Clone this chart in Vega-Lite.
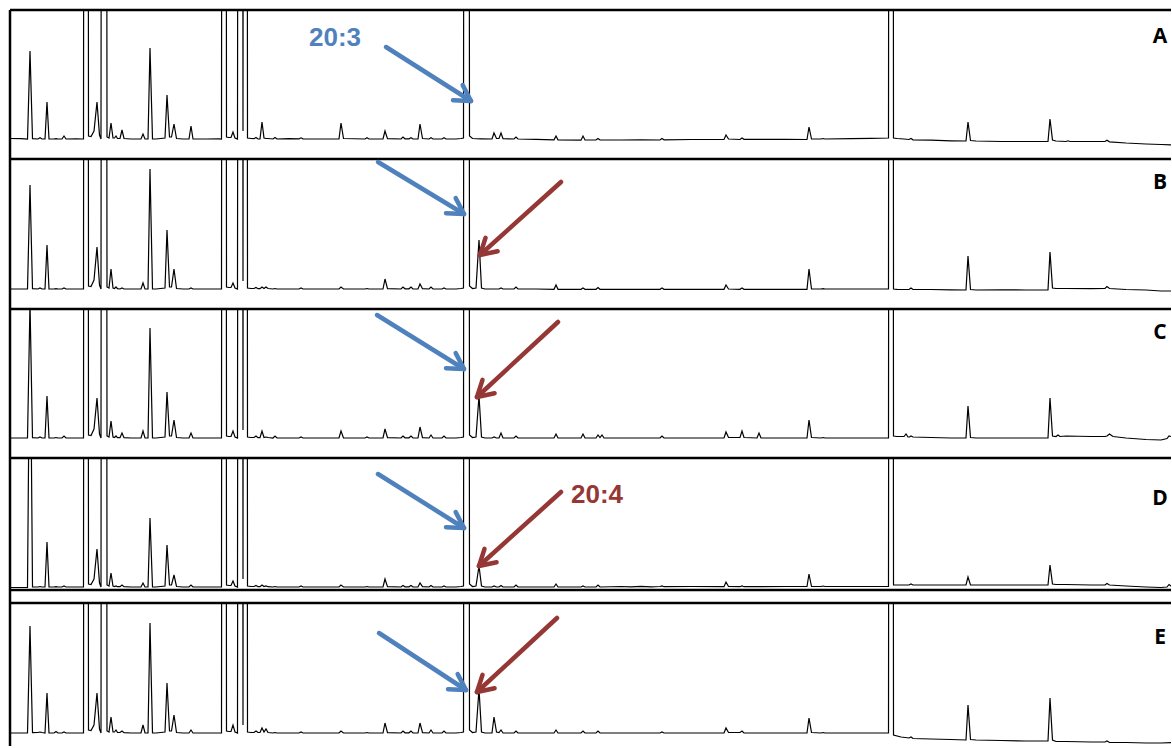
{
"$schema": "https://vega.github.io/schema/vega-lite/v6.json",
"usermeta": {"embedOptions": {"actions": false}},
"padding": {"left": 8, "top": 8, "right": 0, "bottom": 0},
"autosize": {"type": "pad"},
"bounds": "flush",
"spacing": 0,
"config": {
  "view": {"stroke": null}
},
"datasets": {
"A": [{"t":9,"v":0.5},{"t":20,"v":0.3},{"t":26.5,"v":0},{"t":29,"v":88},{"t":31.5,"v":0.3},{"t":37,"v":0},{"t":39,"v":1.2},{"t":41,"v":0},{"t":44,"v":0},{"t":46,"v":37},{"t":48,"v":0},{"t":53,"v":0},{"t":55,"v":0.3},{"t":57,"v":0},{"t":61,"v":0},{"t":63,"v":3},{"t":65,"v":0},{"t":75,"v":0.2},{"t":82.5,"v":0},{"t":85,"v":3000},{"t":87.5,"v":3},{"t":90,"v":2.5},{"t":93,"v":8},{"t":96,"v":37},{"t":98.5,"v":4},{"t":100,"v":0},{"t":103,"v":3000},{"t":106,"v":2},{"t":108,"v":1},{"t":110,"v":16},{"t":112,"v":1},{"t":113.5,"v":1},{"t":115,"v":3},{"t":116.5,"v":0.5},{"t":119,"v":0.5},{"t":121,"v":9},{"t":123,"v":0.5},{"t":130,"v":0},{"t":140,"v":0},{"t":142,"v":5},{"t":144,"v":0},{"t":147,"v":0},{"t":149,"v":91},{"t":151.5,"v":0},{"t":155,"v":0},{"t":164,"v":1},{"t":166,"v":44},{"t":168.5,"v":2},{"t":170.5,"v":2},{"t":173,"v":15},{"t":175.5,"v":0.5},{"t":182,"v":0},{"t":188,"v":0},{"t":190,"v":13},{"t":192,"v":0},{"t":205,"v":0},{"t":218,"v":0.2},{"t":220.5,"v":0},{"t":223,"v":3000},{"t":225.5,"v":2},{"t":228,"v":1.5},{"t":230,"v":1.5},{"t":232,"v":7},{"t":234,"v":1},{"t":236.5,"v":0},{"t":239.5,"v":3000},{"t":242,"v":8},{"t":244,"v":3000},{"t":246.5,"v":1},{"t":250,"v":0.5},{"t":253,"v":0.3},{"t":255,"v":1.5},{"t":257,"v":0},{"t":259,"v":0},{"t":261,"v":17},{"t":263,"v":1},{"t":265,"v":0.5},{"t":267,"v":0.5},{"t":272,"v":0},{"t":274,"v":1.5},{"t":276,"v":0},{"t":288,"v":0.3},{"t":298,"v":0.2},{"t":300,"v":1.2},{"t":302,"v":0.2},{"t":320,"v":0},{"t":338,"v":0},{"t":340,"v":16},{"t":342.5,"v":0.5},{"t":364,"v":0},{"t":366,"v":1.2},{"t":368,"v":0},{"t":382,"v":0},{"t":384,"v":8},{"t":386.5,"v":0.3},{"t":400,"v":0},{"t":402,"v":2},{"t":404,"v":0.2},{"t":408,"v":0.2},{"t":410,"v":1.2},{"t":412,"v":0},{"t":417,"v":0},{"t":419,"v":15},{"t":421.5,"v":0.5},{"t":428,"v":0},{"t":430,"v":1.2},{"t":432,"v":0},{"t":441,"v":0},{"t":443,"v":1.2},{"t":445,"v":0},{"t":455,"v":0},{"t":460,"v":0.5},{"t":462.5,"v":1},{"t":465.5,"v":3000},{"t":468.5,"v":3},{"t":471.5,"v":0.5},{"t":480,"v":0.2},{"t":491,"v":0},{"t":493,"v":6},{"t":495.5,"v":0.5},{"t":498,"v":0.5},{"t":500,"v":6},{"t":502,"v":0.3},{"t":513,"v":0},{"t":515,"v":2},{"t":517,"v":0},{"t":535,"v":-0.3},{"t":553,"v":-0.8},{"t":555,"v":3},{"t":557,"v":-0.8},{"t":580,"v":-1.2},{"t":582,"v":3},{"t":584,"v":-1},{"t":595,"v":-1},{"t":597,"v":0.5},{"t":599,"v":-1},{"t":620,"v":-1},{"t":640,"v":-0.8},{"t":659,"v":-1},{"t":661,"v":0.5},{"t":663,"v":-0.8},{"t":690,"v":-0.5},{"t":723,"v":-0.5},{"t":725,"v":4},{"t":727.5,"v":0},{"t":739,"v":-0.5},{"t":741,"v":1},{"t":743,"v":-0.3},{"t":785,"v":-0.3},{"t":806,"v":-0.5},{"t":808,"v":12},{"t":810.5,"v":0},{"t":820,"v":0},{"t":822,"v":0.5},{"t":824,"v":0},{"t":850,"v":0.3},{"t":870,"v":0.6},{"t":887.5,"v":1},{"t":890,"v":3000},{"t":892.5,"v":1},{"t":896,"v":0.5},{"t":903,"v":0},{"t":908,"v":-0.5},{"t":910,"v":0.5},{"t":912,"v":-0.8},{"t":930,"v":-1.2},{"t":950,"v":-1.8},{"t":965,"v":-2},{"t":967,"v":17},{"t":969.5,"v":-1.5},{"t":975,"v":-2},{"t":1000,"v":-2.5},{"t":1025,"v":-2.5},{"t":1047,"v":-2.5},{"t":1049,"v":20},{"t":1051.5,"v":-1},{"t":1055,"v":-2},{"t":1065,"v":-2.5},{"t":1067,"v":-1.8},{"t":1069,"v":-2.5},{"t":1090,"v":-2.5},{"t":1104,"v":-2.5},{"t":1106,"v":-1.2},{"t":1108.5,"v":-2.8},{"t":1125,"v":-4},{"t":1145,"v":-5},{"t":1160,"v":-5.5},{"t":1172,"v":-6}],
"B": [{"t":9,"v":0},{"t":20,"v":0},{"t":26.5,"v":0},{"t":29,"v":104},{"t":31.5,"v":0.3},{"t":37,"v":0},{"t":39,"v":1},{"t":41,"v":0},{"t":44,"v":0},{"t":46,"v":44},{"t":48,"v":0},{"t":53,"v":0},{"t":55,"v":0.3},{"t":57,"v":0},{"t":61,"v":0},{"t":63,"v":1},{"t":65,"v":0},{"t":75,"v":0},{"t":82.5,"v":0},{"t":85,"v":3000},{"t":87.5,"v":3},{"t":90,"v":2.5},{"t":93,"v":9},{"t":96,"v":42},{"t":98.5,"v":4},{"t":100,"v":0},{"t":103,"v":3000},{"t":106,"v":2},{"t":108,"v":1},{"t":110,"v":20},{"t":112,"v":1},{"t":113.5,"v":0.5},{"t":115,"v":2},{"t":116.5,"v":0.3},{"t":119,"v":0},{"t":121,"v":1},{"t":123,"v":0},{"t":130,"v":0},{"t":140,"v":0},{"t":142,"v":6},{"t":144,"v":0},{"t":147,"v":0},{"t":149,"v":120},{"t":151.5,"v":0},{"t":155,"v":0},{"t":164,"v":1},{"t":166,"v":59},{"t":168.5,"v":2},{"t":170.5,"v":2},{"t":173,"v":20},{"t":175.5,"v":0.5},{"t":182,"v":0},{"t":188,"v":0},{"t":190,"v":1},{"t":192,"v":0},{"t":205,"v":0},{"t":218,"v":0},{"t":220.5,"v":0},{"t":223,"v":3000},{"t":225.5,"v":2},{"t":228,"v":1.5},{"t":230,"v":1.5},{"t":232,"v":6},{"t":234,"v":1},{"t":236.5,"v":0},{"t":239.5,"v":3000},{"t":242,"v":8},{"t":244,"v":3000},{"t":246.5,"v":1},{"t":250,"v":0.5},{"t":253,"v":0.5},{"t":255,"v":1.5},{"t":257,"v":0.3},{"t":259,"v":0.3},{"t":261,"v":2},{"t":263,"v":0.5},{"t":265,"v":2},{"t":267,"v":0.5},{"t":272,"v":0},{"t":274,"v":0.5},{"t":276,"v":0},{"t":298,"v":0},{"t":300,"v":1},{"t":302,"v":0},{"t":320,"v":0},{"t":338,"v":0},{"t":340,"v":2},{"t":342.5,"v":0},{"t":364,"v":0},{"t":366,"v":0.5},{"t":368,"v":0},{"t":382,"v":0},{"t":384,"v":10},{"t":386.5,"v":0.3},{"t":400,"v":0},{"t":402,"v":2},{"t":404,"v":0.2},{"t":408,"v":0.2},{"t":410,"v":2},{"t":412,"v":0},{"t":417,"v":0},{"t":419,"v":5},{"t":421.5,"v":0.3},{"t":428,"v":0},{"t":430,"v":2},{"t":432,"v":0},{"t":441,"v":0},{"t":443,"v":1},{"t":445,"v":0},{"t":455,"v":0},{"t":460,"v":0.5},{"t":462.5,"v":1},{"t":465.5,"v":3000},{"t":468.5,"v":3},{"t":471.5,"v":0.5},{"t":475,"v":1},{"t":478,"v":49},{"t":480.5,"v":1},{"t":484,"v":0},{"t":498,"v":0},{"t":500,"v":1},{"t":502,"v":0},{"t":513,"v":0},{"t":515,"v":2},{"t":517,"v":0},{"t":535,"v":0},{"t":553,"v":-0.3},{"t":555,"v":4},{"t":557,"v":-0.3},{"t":580,"v":-0.3},{"t":582,"v":1},{"t":584,"v":-0.3},{"t":595,"v":-0.3},{"t":597,"v":1.5},{"t":599,"v":-0.3},{"t":620,"v":-0.3},{"t":640,"v":-0.3},{"t":659,"v":-0.3},{"t":661,"v":1},{"t":663,"v":-0.3},{"t":690,"v":-0.3},{"t":723,"v":-0.3},{"t":725,"v":4},{"t":727.5,"v":0},{"t":739,"v":-0.3},{"t":741,"v":1},{"t":743,"v":-0.3},{"t":785,"v":-0.3},{"t":806,"v":-0.3},{"t":808,"v":20},{"t":810.5,"v":0},{"t":820,"v":0},{"t":822,"v":0.3},{"t":824,"v":0},{"t":850,"v":0},{"t":870,"v":0},{"t":887.5,"v":0},{"t":890,"v":3000},{"t":892.5,"v":0},{"t":896,"v":-0.3},{"t":908,"v":-0.5},{"t":910,"v":1},{"t":912,"v":-0.5},{"t":930,"v":-0.5},{"t":950,"v":-0.8},{"t":965,"v":-1},{"t":967,"v":33},{"t":969.5,"v":-0.5},{"t":975,"v":-1},{"t":1000,"v":-0.8},{"t":1025,"v":-1},{"t":1047,"v":-1},{"t":1049,"v":37},{"t":1051.5,"v":1},{"t":1055,"v":0.5},{"t":1065,"v":0.5},{"t":1090,"v":0.3},{"t":1104,"v":0.5},{"t":1106,"v":2.5},{"t":1108.5,"v":0.5},{"t":1125,"v":-0.5},{"t":1145,"v":-1},{"t":1160,"v":-2},{"t":1172,"v":-2}],
"C": [{"t":9,"v":0},{"t":20,"v":0},{"t":26.5,"v":0},{"t":29,"v":135},{"t":31.5,"v":0.3},{"t":37,"v":0},{"t":39,"v":1},{"t":41,"v":0},{"t":44,"v":0},{"t":46,"v":42},{"t":48,"v":0},{"t":53,"v":0},{"t":55,"v":0.5},{"t":57,"v":0},{"t":61,"v":0},{"t":63,"v":2},{"t":65,"v":0},{"t":75,"v":0},{"t":82.5,"v":0},{"t":85,"v":3000},{"t":87.5,"v":3},{"t":90,"v":2.5},{"t":93,"v":9},{"t":96,"v":40},{"t":98.5,"v":4},{"t":100,"v":0},{"t":103,"v":3000},{"t":106,"v":2},{"t":108,"v":1},{"t":110,"v":17},{"t":112,"v":1},{"t":113.5,"v":0.5},{"t":115,"v":2},{"t":116.5,"v":0.3},{"t":119,"v":0.3},{"t":121,"v":5},{"t":123,"v":0.3},{"t":130,"v":0},{"t":140,"v":0},{"t":142,"v":7},{"t":144,"v":0},{"t":147,"v":0},{"t":149,"v":110},{"t":151.5,"v":0},{"t":155,"v":0},{"t":164,"v":1},{"t":166,"v":46},{"t":168.5,"v":2},{"t":170.5,"v":2},{"t":173,"v":18},{"t":175.5,"v":0.5},{"t":182,"v":0},{"t":188,"v":0},{"t":190,"v":5},{"t":192,"v":0},{"t":205,"v":0},{"t":218,"v":0},{"t":220.5,"v":0},{"t":223,"v":3000},{"t":225.5,"v":2},{"t":228,"v":1.5},{"t":230,"v":1.5},{"t":232,"v":7},{"t":234,"v":1},{"t":236.5,"v":0},{"t":239.5,"v":3000},{"t":242,"v":8},{"t":244,"v":3000},{"t":246.5,"v":1},{"t":250,"v":0.5},{"t":253,"v":0.5},{"t":255,"v":2},{"t":257,"v":0.3},{"t":259,"v":0.3},{"t":261,"v":7},{"t":263,"v":0.5},{"t":265,"v":1},{"t":267,"v":0.5},{"t":272,"v":0},{"t":274,"v":2},{"t":276,"v":0},{"t":298,"v":0},{"t":300,"v":1},{"t":302,"v":0},{"t":320,"v":0},{"t":338,"v":0},{"t":340,"v":7},{"t":342.5,"v":0},{"t":364,"v":0},{"t":366,"v":1},{"t":368,"v":0},{"t":382,"v":0},{"t":384,"v":9},{"t":386.5,"v":0.3},{"t":400,"v":0},{"t":402,"v":2},{"t":404,"v":0.2},{"t":408,"v":0.2},{"t":410,"v":2},{"t":412,"v":0},{"t":417,"v":0},{"t":419,"v":11},{"t":421.5,"v":0.3},{"t":428,"v":0},{"t":430,"v":3},{"t":432,"v":0},{"t":441,"v":0},{"t":443,"v":2},{"t":445,"v":0},{"t":455,"v":0},{"t":460,"v":0.5},{"t":462.5,"v":1},{"t":465.5,"v":3000},{"t":468.5,"v":3},{"t":471.5,"v":0.5},{"t":475,"v":1},{"t":478,"v":42},{"t":480.5,"v":1},{"t":484,"v":0},{"t":491,"v":0},{"t":493,"v":1},{"t":495.5,"v":0},{"t":498,"v":0},{"t":500,"v":5},{"t":502,"v":0},{"t":513,"v":0},{"t":515,"v":2},{"t":517,"v":0},{"t":553,"v":0},{"t":555,"v":4},{"t":557,"v":0},{"t":580,"v":0},{"t":582,"v":4},{"t":584,"v":0},{"t":595,"v":0},{"t":597,"v":3},{"t":599,"v":0.5},{"t":601,"v":3},{"t":603,"v":0},{"t":620,"v":0},{"t":640,"v":0},{"t":659,"v":0},{"t":661,"v":2},{"t":663,"v":0},{"t":690,"v":0},{"t":723,"v":0},{"t":725,"v":6},{"t":727.5,"v":0.5},{"t":739,"v":0.5},{"t":741,"v":7},{"t":743,"v":0.5},{"t":756,"v":0},{"t":758,"v":5},{"t":760,"v":0},{"t":785,"v":0},{"t":806,"v":0},{"t":808,"v":18},{"t":810.5,"v":0.5},{"t":820,"v":0},{"t":822,"v":0.5},{"t":824,"v":0},{"t":850,"v":0},{"t":870,"v":0},{"t":887.5,"v":0},{"t":890,"v":3000},{"t":892.5,"v":2},{"t":896,"v":1.5},{"t":903,"v":1.5},{"t":905,"v":4},{"t":907,"v":1},{"t":908.5,"v":1},{"t":910,"v":2},{"t":912,"v":1},{"t":930,"v":0.5},{"t":950,"v":0},{"t":965,"v":0},{"t":967,"v":32},{"t":969.5,"v":0.5},{"t":975,"v":0},{"t":1000,"v":0},{"t":1025,"v":0},{"t":1047,"v":0},{"t":1049,"v":40},{"t":1051.5,"v":2},{"t":1055,"v":1.5},{"t":1057,"v":3},{"t":1059,"v":1.5},{"t":1065,"v":2},{"t":1090,"v":1.5},{"t":1104,"v":1.5},{"t":1106,"v":2},{"t":1108.5,"v":4},{"t":1112,"v":1.5},{"t":1125,"v":0},{"t":1145,"v":-1.5},{"t":1160,"v":-2},{"t":1166,"v":-0.5},{"t":1168,"v":2},{"t":1170,"v":1.5},{"t":1172,"v":1}],
"D": [{"t":9,"v":-0.5},{"t":20,"v":-0.5},{"t":26.5,"v":-0.5},{"t":29,"v":300},{"t":31.5,"v":0},{"t":37,"v":0},{"t":39,"v":0.5},{"t":41,"v":0},{"t":44,"v":0},{"t":46,"v":45},{"t":48,"v":0},{"t":53,"v":0},{"t":55,"v":0.3},{"t":57,"v":0},{"t":61,"v":0},{"t":63,"v":1},{"t":65,"v":0},{"t":75,"v":0},{"t":82.5,"v":0},{"t":85,"v":3000},{"t":87.5,"v":3},{"t":90,"v":2.5},{"t":93,"v":8},{"t":96,"v":38},{"t":98.5,"v":4},{"t":100,"v":0},{"t":103,"v":3000},{"t":106,"v":2},{"t":108,"v":1},{"t":110,"v":14},{"t":112,"v":1},{"t":113.5,"v":0.5},{"t":115,"v":1},{"t":116.5,"v":0.3},{"t":119,"v":0.3},{"t":121,"v":2},{"t":123,"v":0.3},{"t":130,"v":0},{"t":140,"v":0},{"t":142,"v":4},{"t":144,"v":0},{"t":147,"v":0},{"t":149,"v":69},{"t":151.5,"v":0},{"t":155,"v":0},{"t":164,"v":1},{"t":166,"v":42},{"t":168.5,"v":2},{"t":170.5,"v":2},{"t":173,"v":12},{"t":175.5,"v":0.5},{"t":182,"v":0},{"t":188,"v":0},{"t":190,"v":2},{"t":192,"v":0},{"t":205,"v":0},{"t":218,"v":0},{"t":220.5,"v":0},{"t":223,"v":3000},{"t":225.5,"v":2},{"t":228,"v":1.5},{"t":230,"v":1.5},{"t":232,"v":6},{"t":234,"v":1},{"t":236.5,"v":0},{"t":239.5,"v":3000},{"t":242,"v":8},{"t":244,"v":3000},{"t":246.5,"v":1},{"t":250,"v":0.5},{"t":253,"v":0.5},{"t":255,"v":1.5},{"t":257,"v":0.3},{"t":259,"v":0.3},{"t":261,"v":2},{"t":263,"v":0.5},{"t":265,"v":1},{"t":267,"v":0.3},{"t":272,"v":0},{"t":274,"v":0.5},{"t":276,"v":0},{"t":298,"v":0},{"t":300,"v":1},{"t":302,"v":0},{"t":320,"v":0},{"t":338,"v":0},{"t":340,"v":2},{"t":342.5,"v":0},{"t":364,"v":0},{"t":366,"v":0.5},{"t":368,"v":0},{"t":382,"v":0},{"t":384,"v":8},{"t":386.5,"v":0.3},{"t":400,"v":0},{"t":402,"v":1.5},{"t":404,"v":0.2},{"t":408,"v":0.2},{"t":410,"v":1.5},{"t":412,"v":0},{"t":417,"v":0},{"t":419,"v":4},{"t":421.5,"v":0.3},{"t":428,"v":0},{"t":430,"v":1.5},{"t":432,"v":0},{"t":441,"v":0},{"t":443,"v":1},{"t":445,"v":0},{"t":455,"v":0},{"t":460,"v":0.5},{"t":462.5,"v":1},{"t":465.5,"v":3000},{"t":468.5,"v":3},{"t":471.5,"v":0.5},{"t":475,"v":1},{"t":478,"v":21},{"t":480.5,"v":1},{"t":484,"v":0},{"t":491,"v":0},{"t":493,"v":1},{"t":495.5,"v":0},{"t":498,"v":0},{"t":500,"v":1.5},{"t":502,"v":0},{"t":513,"v":0},{"t":515,"v":2},{"t":517,"v":0},{"t":553,"v":0},{"t":555,"v":3},{"t":557,"v":0},{"t":580,"v":0},{"t":582,"v":1},{"t":584,"v":0},{"t":595,"v":0},{"t":597,"v":2},{"t":599,"v":0},{"t":620,"v":0.5},{"t":630,"v":0.2},{"t":640,"v":0.6},{"t":650,"v":0.2},{"t":659,"v":0.5},{"t":661,"v":1},{"t":663,"v":0.3},{"t":690,"v":0.5},{"t":723,"v":0.3},{"t":725,"v":5},{"t":727.5,"v":0.5},{"t":739,"v":0.3},{"t":741,"v":1},{"t":743,"v":0.3},{"t":785,"v":0.5},{"t":806,"v":0.5},{"t":808,"v":13},{"t":810.5,"v":0.5},{"t":820,"v":0.5},{"t":822,"v":1},{"t":824,"v":0.5},{"t":850,"v":0.5},{"t":870,"v":0.5},{"t":887.5,"v":0.5},{"t":890,"v":3000},{"t":892.5,"v":2},{"t":896,"v":2},{"t":908,"v":2},{"t":910,"v":3},{"t":912,"v":2},{"t":930,"v":2},{"t":950,"v":2},{"t":965,"v":2},{"t":967,"v":10},{"t":969.5,"v":2},{"t":975,"v":2},{"t":1000,"v":2},{"t":1025,"v":2},{"t":1047,"v":2},{"t":1049,"v":22},{"t":1051.5,"v":3},{"t":1055,"v":2.5},{"t":1065,"v":2.5},{"t":1090,"v":2},{"t":1104,"v":2},{"t":1106,"v":3.5},{"t":1108.5,"v":2},{"t":1125,"v":1},{"t":1145,"v":0},{"t":1160,"v":-0.5},{"t":1166,"v":0},{"t":1168,"v":2.5},{"t":1170,"v":1},{"t":1172,"v":0}],
"E": [{"t":9,"v":0},{"t":20,"v":0},{"t":26.5,"v":0},{"t":29,"v":107},{"t":31.5,"v":0.3},{"t":37,"v":0.5},{"t":39,"v":1},{"t":41,"v":0.5},{"t":44,"v":0},{"t":46,"v":40},{"t":48,"v":0},{"t":53,"v":0},{"t":55,"v":1.5},{"t":57,"v":0},{"t":61,"v":0},{"t":63,"v":1},{"t":65,"v":0},{"t":75,"v":0},{"t":82.5,"v":0},{"t":85,"v":3000},{"t":87.5,"v":3},{"t":90,"v":2.5},{"t":93,"v":8},{"t":96,"v":40},{"t":98.5,"v":4},{"t":100,"v":0},{"t":103,"v":3000},{"t":106,"v":2},{"t":108,"v":1},{"t":110,"v":16},{"t":112,"v":1},{"t":113.5,"v":1},{"t":115,"v":3},{"t":116.5,"v":0.5},{"t":119,"v":0.5},{"t":121,"v":2},{"t":123,"v":0.3},{"t":130,"v":0},{"t":140,"v":0},{"t":142,"v":8},{"t":144,"v":0},{"t":147,"v":0},{"t":149,"v":110},{"t":151.5,"v":0},{"t":155,"v":0},{"t":164,"v":1},{"t":166,"v":50},{"t":168.5,"v":2},{"t":170.5,"v":2},{"t":173,"v":18},{"t":175.5,"v":0.5},{"t":182,"v":0},{"t":188,"v":0},{"t":190,"v":3},{"t":192,"v":0},{"t":205,"v":0},{"t":218,"v":0},{"t":220.5,"v":0},{"t":223,"v":3000},{"t":225.5,"v":2},{"t":228,"v":1.5},{"t":230,"v":1.5},{"t":232,"v":8},{"t":234,"v":1},{"t":236.5,"v":0},{"t":239.5,"v":3000},{"t":242,"v":8},{"t":244,"v":3000},{"t":246.5,"v":1},{"t":250,"v":0.5},{"t":253,"v":0.5},{"t":255,"v":2},{"t":257,"v":0.5},{"t":259,"v":0.5},{"t":261,"v":5},{"t":263,"v":1},{"t":265,"v":4},{"t":267,"v":0.5},{"t":272,"v":0},{"t":274,"v":0.5},{"t":276,"v":0},{"t":298,"v":0},{"t":300,"v":1},{"t":302,"v":0},{"t":320,"v":0},{"t":338,"v":0},{"t":340,"v":2},{"t":342.5,"v":0},{"t":364,"v":0},{"t":366,"v":0.5},{"t":368,"v":0},{"t":382,"v":0},{"t":384,"v":10},{"t":386.5,"v":0.3},{"t":400,"v":0},{"t":402,"v":2},{"t":404,"v":0.2},{"t":408,"v":0.2},{"t":410,"v":2},{"t":412,"v":0},{"t":417,"v":0},{"t":419,"v":10},{"t":421.5,"v":0.3},{"t":428,"v":0},{"t":430,"v":3},{"t":432,"v":0},{"t":441,"v":0},{"t":443,"v":2},{"t":445,"v":0},{"t":455,"v":0},{"t":460,"v":0.5},{"t":462.5,"v":1},{"t":465.5,"v":3000},{"t":468.5,"v":3},{"t":471.5,"v":0.5},{"t":475,"v":1},{"t":478,"v":44},{"t":480.5,"v":1},{"t":484,"v":0},{"t":491,"v":0},{"t":493,"v":16},{"t":495.5,"v":1},{"t":498,"v":0.5},{"t":500,"v":3},{"t":502,"v":0},{"t":513,"v":0},{"t":515,"v":2},{"t":517,"v":0},{"t":553,"v":0},{"t":555,"v":3},{"t":557,"v":0},{"t":580,"v":0},{"t":582,"v":2},{"t":584,"v":0},{"t":595,"v":0},{"t":597,"v":2},{"t":599,"v":0},{"t":659,"v":0},{"t":661,"v":1},{"t":663,"v":0},{"t":723,"v":0},{"t":725,"v":5},{"t":727.5,"v":0.5},{"t":739,"v":0.5},{"t":741,"v":2},{"t":743,"v":0},{"t":806,"v":0},{"t":808,"v":15},{"t":810.5,"v":0.5},{"t":820,"v":0},{"t":822,"v":0.5},{"t":824,"v":0},{"t":887.5,"v":0},{"t":890,"v":3000},{"t":892.5,"v":-2},{"t":900,"v":-4},{"t":908,"v":-5},{"t":910,"v":-4},{"t":912,"v":-5.5},{"t":930,"v":-6},{"t":950,"v":-6.5},{"t":965,"v":-7},{"t":967,"v":28},{"t":969.5,"v":-6.5},{"t":975,"v":-7},{"t":1000,"v":-7.5},{"t":1025,"v":-8},{"t":1047,"v":-8},{"t":1049,"v":35},{"t":1051.5,"v":-7},{"t":1055,"v":-8.5},{"t":1065,"v":-8.5},{"t":1090,"v":-9},{"t":1104,"v":-9},{"t":1106,"v":-8},{"t":1108.5,"v":-9.5},{"t":1125,"v":-9.5},{"t":1145,"v":-10},{"t":1160,"v":-10},{"t":1172,"v":-9.5}],
"arrows": [
{"p":"A","k":"20:3","t":385,"v":92,"t2":470,"v2":38},{"p":"A","k":"20:3","t":470,"v":38,"t2":461.7,"v2":53.9},{"p":"A","k":"20:3","t":470,"v":38,"t2":452,"v2":38.8},
{"p":"B","k":"20:3","t":377,"v":127,"t2":463,"v2":75},{"p":"B","k":"20:3","t":463,"v":75,"t2":454.7,"v2":90.9},{"p":"B","k":"20:3","t":463,"v":75,"t2":445,"v2":75.8},
{"p":"B","k":"20:4","t":560,"v":107,"t2":479,"v2":34},{"p":"B","k":"20:4","t":479,"v":34,"t2":496.6,"v2":37.8},{"p":"B","k":"20:4","t":479,"v":34,"t2":484.5,"v2":51.1},
{"p":"C","k":"20:3","t":376,"v":123,"t2":463,"v2":69},{"p":"C","k":"20:3","t":463,"v":69,"t2":454.7,"v2":84.9},{"p":"C","k":"20:3","t":463,"v":69,"t2":445,"v2":69.8},
{"p":"C","k":"20:4","t":557,"v":116,"t2":476,"v2":41},{"p":"C","k":"20:4","t":476,"v":41,"t2":493.6,"v2":44.8},{"p":"C","k":"20:4","t":476,"v":41,"t2":481.5,"v2":58.1},
{"p":"D","k":"20:3","t":377,"v":113,"t2":463,"v2":59},{"p":"D","k":"20:3","t":463,"v":59,"t2":454.7,"v2":74.9},{"p":"D","k":"20:3","t":463,"v":59,"t2":445,"v2":59.8},
{"p":"D","k":"20:4","t":560,"v":95,"t2":478,"v2":21},{"p":"D","k":"20:4","t":478,"v":21,"t2":495.6,"v2":24.8},{"p":"D","k":"20:4","t":478,"v":21,"t2":483.5,"v2":38.1},
{"p":"E","k":"20:3","t":378,"v":100,"t2":465,"v2":43},{"p":"E","k":"20:3","t":465,"v":43,"t2":456.7,"v2":58.9},{"p":"E","k":"20:3","t":465,"v":43,"t2":447,"v2":43.8},
{"p":"E","k":"20:4","t":556,"v":115,"t2":476,"v2":41},{"p":"E","k":"20:4","t":476,"v":41,"t2":493.6,"v2":44.8},{"p":"E","k":"20:4","t":476,"v":41,"t2":481.5,"v2":58.1}
],
"letters": [{"p":"A","s":"A","t":1159,"v":96},{"p":"B","s":"B","t":1159,"v":100},{"p":"C","s":"C","t":1159,"v":99},{"p":"D","s":"D","t":1159,"v":82},{"p":"E","s":"E","t":1159,"v":89}],
"notes": [{"p":"A","k":"20:3","s":"20:3","t":334,"v":93},{"p":"D","k":"20:4","s":"20:4","t":596,"v":84}]
},
"vconcat": [
{"width": 1161, "height": 149, "layer": [
 {"data": {"name": "A"}, "mark": {"type": "line", "color": "#000", "strokeWidth": 1.2, "clip": true},
  "encoding": {"x": {"field": "t", "type": "quantitative", "scale": {"domain": [9, 1170], "nice": false, "zero": false}, "axis": null},
               "y": {"field": "v", "type": "quantitative", "scale": {"domain": [-20, 129], "nice": false, "zero": false}, "axis": null}}},
 {"data": {"values": [{"edge": 129}]}, "mark": {"type": "rule", "color": "#000", "strokeWidth": 2.5}, "encoding": {"y": {"field": "edge", "type": "quantitative", "axis": null}}},
 {"data": {"values": [{"edge": 9}]}, "mark": {"type": "rule", "color": "#000", "strokeWidth": 2.5}, "encoding": {"x": {"field": "edge", "type": "quantitative", "axis": null}}},
 {"data": {"name": "arrows"}, "transform": [{"filter": "datum.p == 'A'"}], "mark": {"type": "rule", "strokeWidth": 4.5, "strokeCap": "round"},
  "encoding": {"x": {"field": "t", "type": "quantitative", "axis": null}, "y": {"field": "v", "type": "quantitative", "axis": null}, "x2": {"field": "t2"}, "y2": {"field": "v2"},
               "color": {"field": "k", "type": "nominal", "scale": {"domain": ["20:3", "20:4"], "range": ["#4F81BD", "#953735"]}, "legend": null}}},
 {"data": {"name": "letters"}, "transform": [{"filter": "datum.p == 'A'"}], "mark": {"type": "text", "font": "Open Sans", "fontWeight": "bold", "fontSize": 21, "align": "center", "baseline": "alphabetic", "color": "#000"},
  "encoding": {"x": {"field": "t", "type": "quantitative", "axis": null}, "y": {"field": "v", "type": "quantitative", "axis": null}, "text": {"field": "s"}}},
 {"data": {"name": "notes"}, "transform": [{"filter": "datum.p == 'A'"}], "mark": {"type": "text", "font": "Liberation Sans", "fontWeight": "bold", "fontSize": 26, "align": "center", "baseline": "alphabetic"},
  "encoding": {"x": {"field": "t", "type": "quantitative", "axis": null}, "y": {"field": "v", "type": "quantitative", "axis": null}, "text": {"field": "s"},
               "color": {"field": "k", "type": "nominal", "scale": {"domain": ["20:3", "20:4"], "range": ["#4F81BD", "#953735"]}, "legend": null}}}
]},
{"width": 1161, "height": 150, "layer": [
 {"data": {"name": "B"}, "mark": {"type": "line", "color": "#000", "strokeWidth": 1.2, "clip": true},
  "encoding": {"x": {"field": "t", "type": "quantitative", "scale": {"domain": [9, 1170], "nice": false, "zero": false}, "axis": null},
               "y": {"field": "v", "type": "quantitative", "scale": {"domain": [-20, 130], "nice": false, "zero": false}, "axis": null}}},
 {"data": {"values": [{"edge": 130}]}, "mark": {"type": "rule", "color": "#000", "strokeWidth": 2.5}, "encoding": {"y": {"field": "edge", "type": "quantitative", "axis": null}}},
 {"data": {"values": [{"edge": 9}]}, "mark": {"type": "rule", "color": "#000", "strokeWidth": 2.5}, "encoding": {"x": {"field": "edge", "type": "quantitative", "axis": null}}},
 {"data": {"name": "arrows"}, "transform": [{"filter": "datum.p == 'B'"}], "mark": {"type": "rule", "strokeWidth": 4.5, "strokeCap": "round"},
  "encoding": {"x": {"field": "t", "type": "quantitative", "axis": null}, "y": {"field": "v", "type": "quantitative", "axis": null}, "x2": {"field": "t2"}, "y2": {"field": "v2"},
               "color": {"field": "k", "type": "nominal", "scale": {"domain": ["20:3", "20:4"], "range": ["#4F81BD", "#953735"]}, "legend": null}}},
 {"data": {"name": "letters"}, "transform": [{"filter": "datum.p == 'B'"}], "mark": {"type": "text", "font": "Open Sans", "fontWeight": "bold", "fontSize": 21, "align": "center", "baseline": "alphabetic", "color": "#000"},
  "encoding": {"x": {"field": "t", "type": "quantitative", "axis": null}, "y": {"field": "v", "type": "quantitative", "axis": null}, "text": {"field": "s"}}}
]},
{"width": 1161, "height": 149, "layer": [
 {"data": {"name": "C"}, "mark": {"type": "line", "color": "#000", "strokeWidth": 1.2, "clip": true},
  "encoding": {"x": {"field": "t", "type": "quantitative", "scale": {"domain": [9, 1170], "nice": false, "zero": false}, "axis": null},
               "y": {"field": "v", "type": "quantitative", "scale": {"domain": [-20, 129], "nice": false, "zero": false}, "axis": null}}},
 {"data": {"values": [{"edge": 129}]}, "mark": {"type": "rule", "color": "#000", "strokeWidth": 2.5}, "encoding": {"y": {"field": "edge", "type": "quantitative", "axis": null}}},
 {"data": {"values": [{"edge": 9}]}, "mark": {"type": "rule", "color": "#000", "strokeWidth": 2.5}, "encoding": {"x": {"field": "edge", "type": "quantitative", "axis": null}}},
 {"data": {"name": "arrows"}, "transform": [{"filter": "datum.p == 'C'"}], "mark": {"type": "rule", "strokeWidth": 4.5, "strokeCap": "round"},
  "encoding": {"x": {"field": "t", "type": "quantitative", "axis": null}, "y": {"field": "v", "type": "quantitative", "axis": null}, "x2": {"field": "t2"}, "y2": {"field": "v2"},
               "color": {"field": "k", "type": "nominal", "scale": {"domain": ["20:3", "20:4"], "range": ["#4F81BD", "#953735"]}, "legend": null}}},
 {"data": {"name": "letters"}, "transform": [{"filter": "datum.p == 'C'"}], "mark": {"type": "text", "font": "Open Sans", "fontWeight": "bold", "fontSize": 21, "align": "center", "baseline": "alphabetic", "color": "#000"},
  "encoding": {"x": {"field": "t", "type": "quantitative", "axis": null}, "y": {"field": "v", "type": "quantitative", "axis": null}, "text": {"field": "s"}}}
]},
{"width": 1161, "height": 145, "layer": [
 {"data": {"name": "D"}, "mark": {"type": "line", "color": "#000", "strokeWidth": 1.2, "clip": true},
  "encoding": {"x": {"field": "t", "type": "quantitative", "scale": {"domain": [9, 1170], "nice": false, "zero": false}, "axis": null},
               "y": {"field": "v", "type": "quantitative", "scale": {"domain": [-16, 129], "nice": false, "zero": false}, "axis": null}}},
 {"data": {"values": [{"edge": 129}, {"edge": -3}]}, "mark": {"type": "rule", "color": "#000", "strokeWidth": 2.5}, "encoding": {"y": {"field": "edge", "type": "quantitative", "axis": null}}},
 {"data": {"values": [{"edge": 9}]}, "mark": {"type": "rule", "color": "#000", "strokeWidth": 2.5}, "encoding": {"x": {"field": "edge", "type": "quantitative", "axis": null}}},
 {"data": {"name": "arrows"}, "transform": [{"filter": "datum.p == 'D'"}], "mark": {"type": "rule", "strokeWidth": 4.5, "strokeCap": "round"},
  "encoding": {"x": {"field": "t", "type": "quantitative", "axis": null}, "y": {"field": "v", "type": "quantitative", "axis": null}, "x2": {"field": "t2"}, "y2": {"field": "v2"},
               "color": {"field": "k", "type": "nominal", "scale": {"domain": ["20:3", "20:4"], "range": ["#4F81BD", "#953735"]}, "legend": null}}},
 {"data": {"name": "letters"}, "transform": [{"filter": "datum.p == 'D'"}], "mark": {"type": "text", "font": "Open Sans", "fontWeight": "bold", "fontSize": 21, "align": "center", "baseline": "alphabetic", "color": "#000"},
  "encoding": {"x": {"field": "t", "type": "quantitative", "axis": null}, "y": {"field": "v", "type": "quantitative", "axis": null}, "text": {"field": "s"}}},
 {"data": {"name": "notes"}, "transform": [{"filter": "datum.p == 'D'"}], "mark": {"type": "text", "font": "Liberation Sans", "fontWeight": "bold", "fontSize": 26, "align": "center", "baseline": "alphabetic"},
  "encoding": {"x": {"field": "t", "type": "quantitative", "axis": null}, "y": {"field": "v", "type": "quantitative", "axis": null}, "text": {"field": "s"},
               "color": {"field": "k", "type": "nominal", "scale": {"domain": ["20:3", "20:4"], "range": ["#4F81BD", "#953735"]}, "legend": null}}}
]},
{"width": 1161, "height": 143, "layer": [
 {"data": {"name": "E"}, "mark": {"type": "line", "color": "#000", "strokeWidth": 1.2, "clip": true},
  "encoding": {"x": {"field": "t", "type": "quantitative", "scale": {"domain": [9, 1170], "nice": false, "zero": false}, "axis": null},
               "y": {"field": "v", "type": "quantitative", "scale": {"domain": [-13, 130], "nice": false, "zero": false}, "axis": null}}},
 {"data": {"values": [{"edge": 130}]}, "mark": {"type": "rule", "color": "#000", "strokeWidth": 2.5}, "encoding": {"y": {"field": "edge", "type": "quantitative", "axis": null}}},
 {"data": {"values": [{"edge": 9}]}, "mark": {"type": "rule", "color": "#000", "strokeWidth": 2.5}, "encoding": {"x": {"field": "edge", "type": "quantitative", "axis": null}}},
 {"data": {"name": "arrows"}, "transform": [{"filter": "datum.p == 'E'"}], "mark": {"type": "rule", "strokeWidth": 4.5, "strokeCap": "round"},
  "encoding": {"x": {"field": "t", "type": "quantitative", "axis": null}, "y": {"field": "v", "type": "quantitative", "axis": null}, "x2": {"field": "t2"}, "y2": {"field": "v2"},
               "color": {"field": "k", "type": "nominal", "scale": {"domain": ["20:3", "20:4"], "range": ["#4F81BD", "#953735"]}, "legend": null}}},
 {"data": {"name": "letters"}, "transform": [{"filter": "datum.p == 'E'"}], "mark": {"type": "text", "font": "Open Sans", "fontWeight": "bold", "fontSize": 21, "align": "center", "baseline": "alphabetic", "color": "#000"},
  "encoding": {"x": {"field": "t", "type": "quantitative", "axis": null}, "y": {"field": "v", "type": "quantitative", "axis": null}, "text": {"field": "s"}}}
]}
]
}
